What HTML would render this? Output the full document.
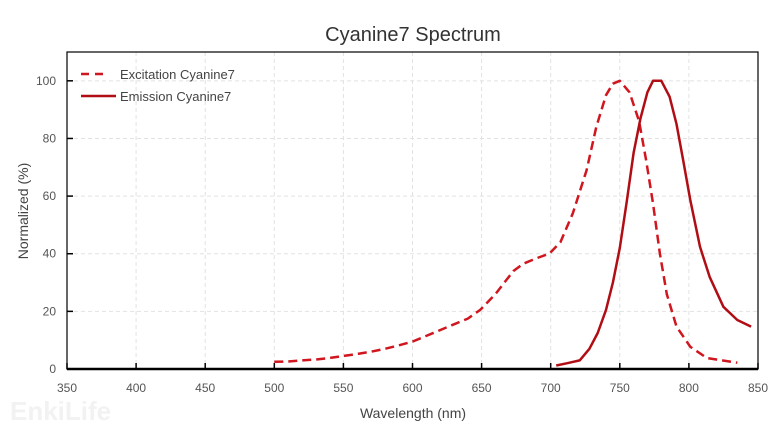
<!DOCTYPE html>
<html><head><meta charset="utf-8"><style>
body{margin:0;background:#fff;font-family:"Liberation Sans",sans-serif}
svg text{font-family:"Liberation Sans",sans-serif}
</style></head><body>
<svg width="783" height="432" viewBox="0 0 783 432">
<text x="413" y="41" font-size="20" fill="#333" text-anchor="middle">Cyanine7  Spectrum</text>
<text x="10" y="420" font-size="26" font-weight="bold" fill="#f2f2f2">EnkiLife</text>
<g id="grid"></g>
<g id="plot"></g>
<g id="axes"></g>
<text x="413" y="418" font-size="14" fill="#444" text-anchor="middle">Wavelength (nm)</text>
<text transform="translate(28,211) rotate(-90)" font-size="14" fill="#444" text-anchor="middle">Normalized (%)</text>
<g>
<line x1="81" y1="74" x2="109" y2="74" stroke="#d0161e" stroke-width="2.5" stroke-dasharray="8,6"/>
<text x="120" y="79" font-size="13" fill="#444">Excitation Cyanine7</text>
<line x1="81" y1="96" x2="116" y2="96" stroke="#b00e14" stroke-width="2.5"/>
<text x="120" y="101" font-size="13" fill="#444">Emission Cyanine7</text>
</g>
</svg>
<script>
const xTicks=[350,400,450,500,550,600,650,700,750,800,850];
const yTicks=[0,20,40,60,80,100];
const exWl=[500,510,520,530,540,550,560,570,580,590,600,610,620,630,640,649,660,673,680,690,699,707,716,726,733,740,745,750,757,764,769,774,779,784,791,801,813,835];
const exVal=[2.5,2.6,3,3.3,3.8,4.5,5.2,6,7,8.2,9.5,11.5,13.5,15.5,17.5,20.5,26,34,36.5,38.5,40,44,54,69,84,95,99,100,96,86,72.5,57.5,40,26,14.7,7.7,3.8,2.2];
const emWl=[704,712,721,728,734,740,745,750,755,760,765,770,774,780,786,791,796,801,808,815,825,835,845];
const emVal=[1.2,2,3,7,12.5,20.5,30,42,58,75,87,96,100,100,94.5,85,72,58.6,42.4,32,21.6,17,14.7];
const X0=67,X1=758,Y0=369,Y1=52;
const sx=v=>X0+(v-350)/500*(X1-X0);
const sy=v=>Y0-v/110*(Y0-Y1);
const NS='http://www.w3.org/2000/svg';
function mk(t,a,p){const e=document.createElementNS(NS,t);for(const k in a)e.setAttribute(k,a[k]);p.appendChild(e);return e;}
const grid=document.getElementById('grid'),axes=document.getElementById('axes'),plot=document.getElementById('plot');
xTicks.forEach(t=>{
 if(t>350&&t<850){const g=mk('line',{x1:sx(t),x2:sx(t),y1:Y1,y2:Y0,stroke:'#e2e2e2','stroke-dasharray':'4,3'},grid);
 
 }
 const k=mk('line',{x1:sx(t),x2:sx(t),y1:Y0,y2:Y0-6,stroke:'#000','stroke-width':1.5},axes);
 
 
 const l=mk('text',{x:sx(t),y:392,'font-size':12,fill:'#555','text-anchor':'middle'},axes);l.textContent=t;
 
 
});
yTicks.forEach(t=>{
 if(t>0){const g=mk('line',{x1:X0,x2:X1,y1:sy(t),y2:sy(t),stroke:'#e2e2e2','stroke-dasharray':'4,3'},grid);
 
 }
 const k=mk('line',{x1:X0,x2:X0+6,y1:sy(t),y2:sy(t),stroke:'#000','stroke-width':1.5},axes);
 
 
 const l=mk('text',{x:56,y:sy(t)+4,'font-size':12,fill:'#555','text-anchor':'end'},axes);l.textContent=t;
 
 
});
const fr=mk('rect',{x:X0,y:Y1,width:X1-X0,height:Y0-Y1,fill:'none',stroke:'#000','stroke-width':1.2},axes);


const xa=mk('line',{x1:X0,x2:X1,y1:Y0,y2:Y0,stroke:'#000','stroke-width':2.5},axes);


const pts=(w,v)=>w.map((x,i)=>sx(x).toFixed(1)+','+sy(v[i]).toFixed(1)).join(' ');
const ex=mk('polyline',{points:pts(exWl,exVal),fill:'none',stroke:'#d0161e','stroke-width':2.5,'stroke-dasharray':'9,5','stroke-linejoin':'round'},plot);


const em=mk('polyline',{points:pts(emWl,emVal),fill:'none',stroke:'#b00e14','stroke-width':2.5,'stroke-linejoin':'round'},plot);


</script>
</body></html>
